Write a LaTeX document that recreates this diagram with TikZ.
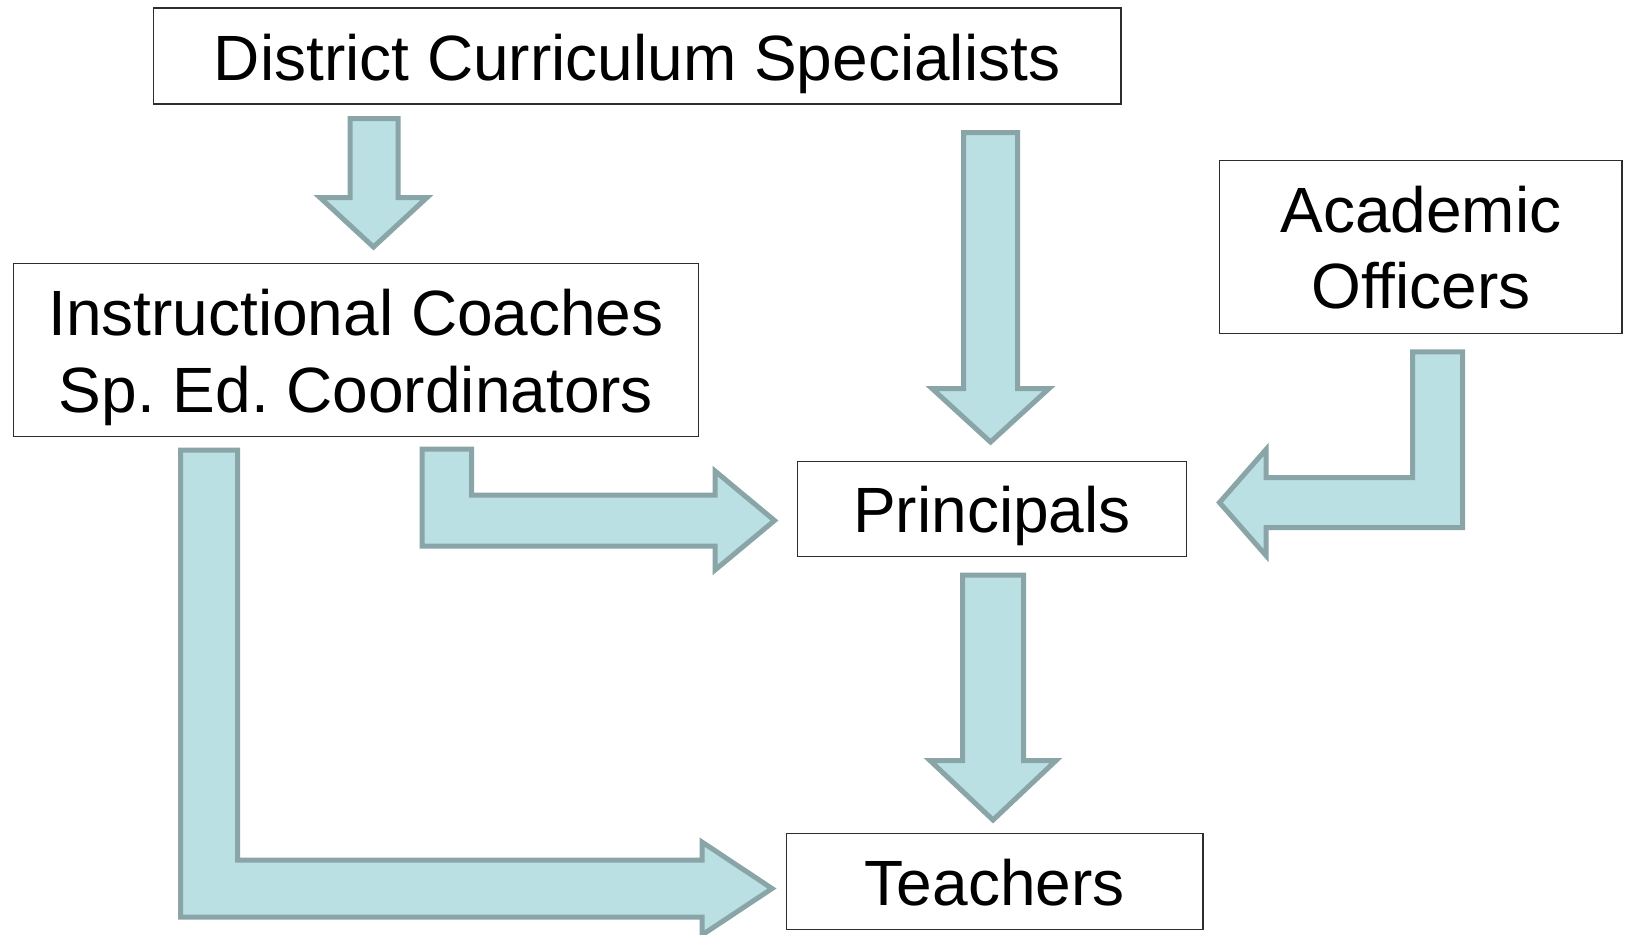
\documentclass[tikz,border=0pt]{standalone}
\usepackage{fontspec}
\setmainfont{Liberation Sans}
\frenchspacing
\definecolor{arrowfill}{RGB}{187,224,227}
\definecolor{arrowline}{RGB}{138,165,167}
\definecolor{boxline}{RGB}{45,45,45}
\tikzset{
  box/.style={draw=boxline, line width=0.75pt, rectangle, inner sep=0pt, fill=white},
  lbl/.style={inner sep=0pt, anchor=base, font=\fontsize{32}{38}\selectfont},
  blockarrow/.style={fill=arrowfill, draw=arrowline, line width=2.5pt, line join=miter}
}
\begin{document}
\frenchspacing
\begin{tikzpicture}[x=0.5pt,y=-0.5pt]
\useasboundingbox (0,0) rectangle (1626,934);
\clip (0,0) rectangle (1626,934);
\fill[white] (0,0) rectangle (1626,934);

% boxes
\node[box, minimum width=483.75pt, minimum height=48pt] (dcs) at (637,56) {};
\node[box, minimum width=342.3pt, minimum height=86.5pt] (ic) at (356,350) {};
\node[box, minimum width=201.15pt, minimum height=86.3pt] (ao) at (1420.85,247) {};
\node[box, minimum width=194.5pt, minimum height=47.5pt] (pr) at (992,509) {};
\node[box, minimum width=208.35pt, minimum height=47.9pt] (te) at (994.7,881.4) {};

% labels
\node[lbl] (dcsT) at (637,80) {District Curriculum Specialists};
\node[lbl] (icT1) at (356,335) {Instructional Coaches};
\node[lbl] (icT2) at (356,412) {Sp. Ed. Coordinators};
\node[lbl] (aoT1) at (1421,232.3) {Academic};
\node[lbl] (aoT2) at (1421,308.3) {Officers};
\node[lbl] (prT) at (992,532.7) {Principals};
\node[lbl] (teT) at (994.7,905) {Teachers};

% block arrows
% District -> Instructional
\draw[blockarrow] (350,118.5) -- (398,118.5) -- (398,197.5) -- (427,197.5)
  -- (373.5,247) -- (320,197.5) -- (350,197.5) -- cycle;
% District -> Principals
\draw[blockarrow] (963.5,132.5) -- (1017.5,132.5) -- (1017.5,388.5) -- (1049,388.5)
  -- (990.5,442) -- (932,388.5) -- (963.5,388.5) -- cycle;
% Principals -> Teachers
\draw[blockarrow] (962.5,575) -- (1023.5,575) -- (1023.5,760.5) -- (1056,760.5)
  -- (993,820) -- (930,760.5) -- (962.5,760.5) -- cycle;
% Academic -> Principals
\draw[blockarrow] (1412.5,351.8) -- (1462.5,351.8) -- (1462.5,527.5) -- (1266,527.5)
  -- (1266,555.5) -- (1219.5,502.5) -- (1266,449.5) -- (1266,477.5) -- (1412.5,477.5) -- cycle;
% Instructional -> Principals
\draw[blockarrow] (422,449) -- (471.5,449) -- (471.5,495) -- (715,495) -- (715,471)
  -- (774.5,520.5) -- (715,570) -- (715,546) -- (422,546) -- cycle;
% Instructional -> Teachers
\draw[blockarrow] (180.5,450) -- (237.5,450) -- (237.5,860) -- (702,860) -- (702,842)
  -- (772,888.5) -- (702,935) -- (702,917) -- (180.5,917) -- cycle;
\end{tikzpicture}
\end{document}
